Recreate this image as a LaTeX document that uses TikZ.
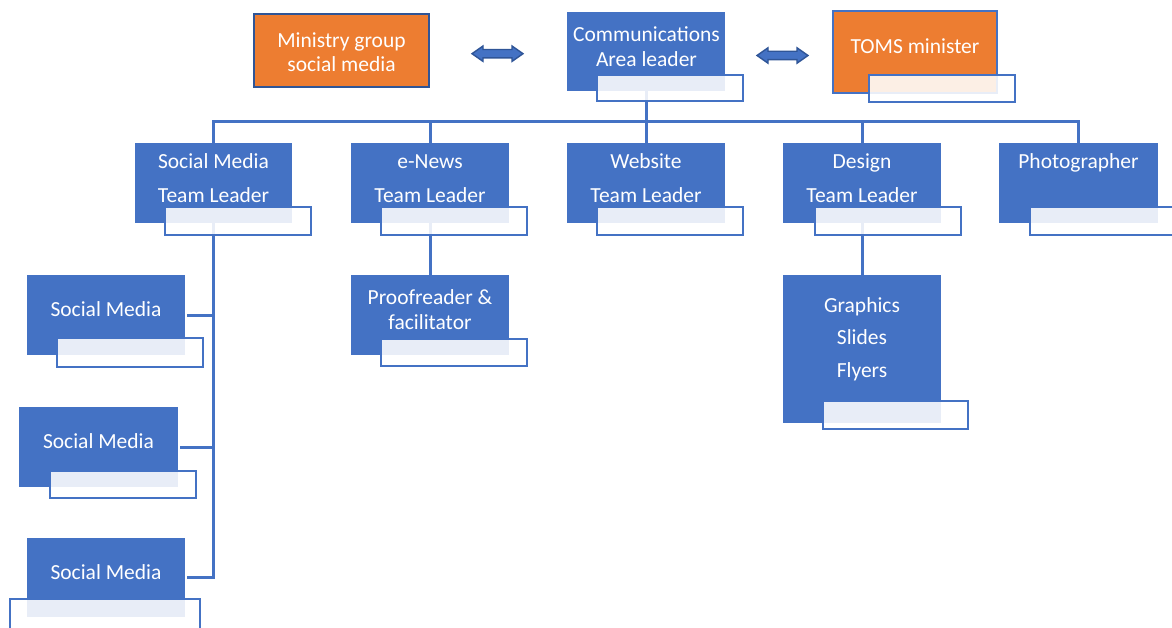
\documentclass[tikz,border=0pt]{standalone}
\usepackage{fontspec}
\setmainfont{Carlito}
\usetikzlibrary{shapes.arrows,backgrounds}
\definecolor{cardblue}{HTML}{4472C4}
\definecolor{cardorange}{HTML}{ED7D31}
\definecolor{edgeblue}{HTML}{2F5597}
\tikzset{
  card/.style={fill=cardblue, inner sep=0pt},
  wh/.style 2 args={minimum width=#1pt, minimum height=#2pt},
  cardtext/.style={text=white, align=center, inner sep=0pt, font=\fontsize{21.5}{34}\selectfont},
  tight/.style={font=\fontsize{21.5}{24.5}\selectfont},
  tag/.style={draw=cardblue, line width=2.4pt, fill=white, fill opacity=.88},
  link/.style={draw=cardblue, line width=3pt, line cap=rect},
  twoway/.style={double arrow, draw=edgeblue, fill=cardblue, line width=1.4pt, inner sep=3.5pt,
    minimum height=51pt, double arrow head extend=3.5pt, double arrow tip angle=70},
}
\begin{document}
\begin{tikzpicture}[x=1pt, y=-1pt]
\useasboundingbox (0,0) rectangle (1172,628);

% top row
\node[card, wh={175}{73}, fill=cardorange, draw=edgeblue, line width=2.8pt] (ministry) at (341.5,50.5) {};
\node[card, wh={158}{79}] (comm) at (646,51.5) {};
\node[card, wh={164}{82}, fill=cardorange, draw=cardblue, line width=2.5pt] (toms) at (915,52) {};
\node[cardtext, tight] (ministry-t) at (341.5,52.2) {Ministry group\\social media};
\node[cardtext, tight] (comm-t) at (646.5,46.8) {Communications\\Area leader};
\node[cardtext, anchor=base] (toms-t) at (915,53.8) {TOMS minister};

% team leaders
\node[card, wh={157}{80}] (smtl) at (213.5,183) {};
\node[card, wh={158}{80}] (enews) at (430,183) {};
\node[card, wh={158}{80}] (web) at (646,183) {};
\node[card, wh={158}{80}] (design) at (862,183) {};
\node[card, wh={159}{80}] (photo) at (1078.5,183) {};
\node[cardtext] (smtl-t) at (213.5,178) {Social Media\\Team Leader};
\node[cardtext] (enews-t) at (430,178.5) {e-News\\Team Leader};
\node[cardtext] (web-t) at (646,178) {Website\\Team Leader};
\node[cardtext] (design-t) at (862,178) {Design\\Team Leader};
\node[cardtext, anchor=base] (photo-t) at (1078.5,169) {Photographer};

% members
\node[card, wh={158}{80}] (proof) at (430,315) {};
\node[card, wh={158}{148}] (gfx) at (862,349) {};
\node[card, wh={158}{80}] (sm1) at (106,315) {};
\node[card, wh={159}{80}] (sm2) at (98.5,447) {};
\node[card, wh={158}{79}] (sm3) at (106,577.5) {};
\node[cardtext, tight] (proof-t) at (430,309.5) {Proofreader \&\\facilitator};
\node[cardtext, font=\fontsize{21.5}{32.5}\selectfont] (gfx-t) at (862,339) {Graphics\\Slides\\Flyers};
\node[cardtext, anchor=base] (sm1-t) at (106,316.5) {Social Media};
\node[cardtext, anchor=base] (sm2-t) at (98.5,448.8) {Social Media};
\node[cardtext, anchor=base] (sm3-t) at (106,579.8) {Social Media};

% connectors
\begin{scope}[on background layer]
\draw[link] (comm.south) -- (646,122) coordinate (bus);
\draw[link] (smtl.north) |- (bus) -| (photo.north);
\foreach \n in {enews,web,design}
  \draw[link] (\n.north) -- (\n.north |- bus);
\draw[link] (enews.south) -- (proof.north);
\draw[link] (design.south) -- (gfx.north);
\draw[link] (smtl.south) -- (smtl.south |- sm3.east);
\foreach \n in {sm1,sm2,sm3}
  \draw[link, shorten <=3pt] (\n.east) -- (\n.east -| smtl.south);
\end{scope}

% name tags
\foreach \xa/\ya/\xb/\yb in {597/75/743/101, 869/75/1015/102, 165/207/311/235, 381/207/527/235,
    597/207/743/235, 815/207/961/235, 1030/207/1190/235, 381/339/527/366, 823/401/968/429,
    57/338/203/367, 50/471/196/498, 10/599/200/650}
  \draw[tag] (\xa,\ya) rectangle (\xb,\yb);

% two-way arrows
\node[twoway] (arrow-l) at (497.5,53.7) {};
\node[twoway] (arrow-r) at (782.5,55.5) {};
\end{tikzpicture}
\end{document}
